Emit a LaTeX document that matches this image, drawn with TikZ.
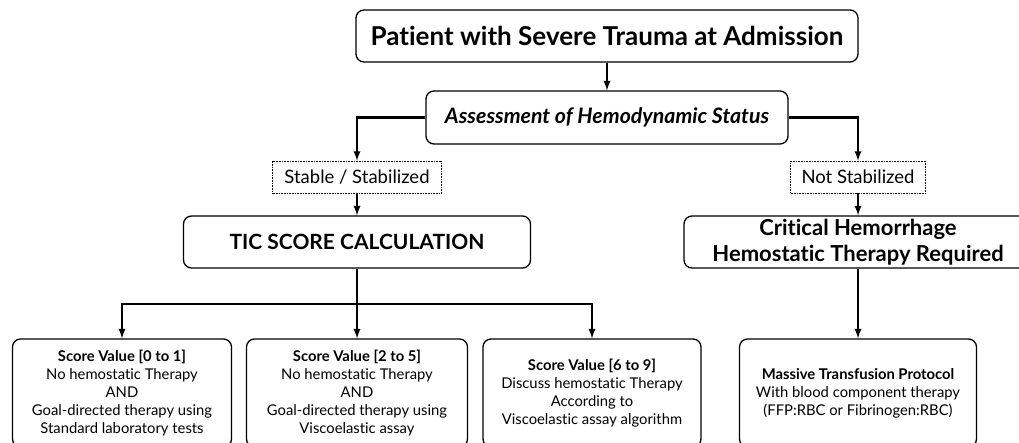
\documentclass[tikz,border=0pt]{standalone}
\usepackage{fontspec}
\setmainfont{Lato}[Ligatures=NoCommon]
\begin{document}
\begin{tikzpicture}[x=1pt,y=-1pt,
  box/.style={draw,line width=1.3pt,rounded corners=8pt,align=center,inner sep=0pt},
  tag/.style={draw,densely dotted,line width=0.6pt,inner sep=0pt,minimum height=32pt,font=\fontsize{18.5}{20}\selectfont},
  score/.style={box,minimum height=108pt,font=\fontsize{14.8}{18}\selectfont},
  link/.style={line width=2.2pt,->,>=latex}]
\useasboundingbox (0,0) rectangle (1019,443);
\path[clip] (0,0) rectangle (1019,443);
% top of the chart
\node[box,minimum width=502pt,minimum height=52pt,font=\fontsize{26}{30}\selectfont\bfseries] (patient) at (607,36) {Patient with Severe Trauma at Admission};
\node[box,minimum width=362pt,minimum height=53pt,font=\fontsize{21.3}{24}\selectfont\bfseries\itshape] (assess) at (607,117.5) {Assessment of Hemodynamic Status};
\node[tag,minimum width=169pt] (stable) at (357,177) {Stable / Stabilized};
\node[tag,minimum width=135pt] (notstab) at (858,177) {Not Stabilized};
\node[box,minimum width=347pt,minimum height=52pt,font=\fontsize{21}{24}\selectfont\bfseries] (tic) at (357,242) {TIC SCORE CALCULATION};
\node[box,minimum width=348pt,minimum height=52pt,font=\fontsize{22}{26}\selectfont\bfseries] (crit) at (858,242) {Critical Hemorrhage\\Hemostatic Therapy Required};
% score boxes
\node[score,minimum width=219pt] (s01) at (122,393) {\textbf{Score Value [0 to 1]}\\No hemostatic Therapy\\AND\\Goal-directed therapy using\\Standard laboratory tests};
\node[score,minimum width=221pt] (s25) at (357,393) {\textbf{Score Value [2 to 5]}\\No hemostatic Therapy\\AND\\Goal-directed therapy using\\Viscoelastic assay};
\node[score,minimum width=218pt] (s69) at (592,393) {\textbf{Score Value [6 to 9]}\\Discuss hemostatic Therapy\\According to\\Viscoelastic assay algorithm};
\node[score,minimum width=237pt] (mtp) at (858,393) {\textbf{Massive Transfusion Protocol}\\With blood component therapy\\(FFP:RBC or Fibrinogen:RBC)};
\coordinate (split) at (357,304);
% arrows
\draw[link] (patient) -- (assess);
\draw[link] (assess.west) -| (stable.north);
\draw[link] (assess.east) -| (notstab.north);
\draw[link] (stable) -- (tic);
\draw[link] (notstab) -- (crit);
\draw[link] (tic) -- (s25);
\draw[link] (split) -| (s01.north);
\draw[link] (split) -| (s69.north);
\draw[link] (crit) -- (mtp);
\end{tikzpicture}
\end{document}
